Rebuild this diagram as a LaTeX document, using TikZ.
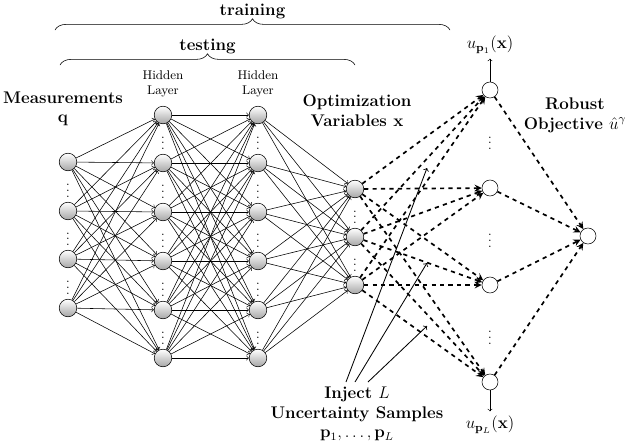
\documentclass[tikz,border=0pt]{standalone}
\usepackage{amsmath,amssymb}
\usetikzlibrary{arrows,positioning,calc,decorations.pathreplacing}
\begin{document}
\begin{tikzpicture}[x=0.025cm,y=-0.025cm,
  neuron/.style={circle,draw,inner sep=0,minimum size=0.44cm,top color=white,bottom color=gray!70},
  obj/.style={circle,draw,fill=white,inner sep=0,minimum size=0.4cm},
  conn/.style={->,>=to,thin},
  dconn/.style={->,>=stealth,very thick,dashed},
  dots/.style={inner sep=0,font=\small},
  lbl/.style={font=\large\bfseries,align=center,inner sep=0}]
\useasboundingbox (0,0) rectangle (640,448);
% layers
\foreach \i/\y in {1/162,2/211,3/259,4/308} \node[neuron] (in\i) at (68,\y) {};
\foreach \i/\y in {1/115,2/163,3/212,4/261,5/310,6/358} {
  \node[neuron] (ha\i) at (163,\y) {};
  \node[neuron] (hb\i) at (258,\y) {};
}
\foreach \i/\y in {1/189,2/237,3/285} \node[neuron] (out\i) at (355,\y) {};
\foreach \i/\y in {1/90,2/188,3/285,4/382} \node[obj] (obj\i) at (490,\y) {};
\node[obj] (rob) at (588,236) {};
% dots
\foreach \a/\b in {in1/in2,in2/in3,in3/in4,ha1/ha2,ha2/ha3,ha3/ha4,ha4/ha5,ha5/ha6,hb1/hb2,hb2/hb3,hb3/hb4,hb4/hb5,hb5/hb6,out1/out2,out2/out3,obj1/obj2,obj2/obj3,obj3/obj4}
  \node[dots] at ($(\a)!0.5!(\b)$) {$\vdots$};
% connections
\foreach \i in {1,...,4} \foreach \j in {1,...,6} \draw[conn] (in\i) -- (ha\j);
\foreach \i in {1,...,6} \foreach \j in {1,...,6} \draw[conn] (ha\i) -- (hb\j);
\foreach \i in {1,...,6} \foreach \j in {1,...,3} \draw[conn] (hb\i) -- (out\j);
\foreach \i in {1,...,3} \foreach \j in {1,...,4} \draw[dconn] (out\i) -- (obj\j);
\foreach \j in {1,...,4} \draw[dconn] (obj\j) -- (rob);
% outputs
\node[font=\large] (up1) at (490,45) {$u_{\mathbf{p}_1}(\mathbf{x})$};
\node[font=\large] (upL) at (490,425) {$u_{\mathbf{p}_L}(\mathbf{x})$};
\draw[->] (obj1) -- (up1);
\draw[->] (obj4) -- (upL);
% labels
\node[lbl] (meas) at (63,109) {Measurements\\$\mathbf{q}$};
\node[font=\small,align=center] (hla) at (163,84) {Hidden\\Layer};
\node[font=\small,align=center] (hlb) at (258,84) {Hidden\\Layer};
\node[lbl] (optv) at (357,111) {Optimization\\Variables $\mathbf{x}$};
\node[lbl] (robo) at (575,115) {Robust\\Objective $\hat{u}^{\gamma}$};
\node[lbl] (inj) at (357,414) {Inject $L$\\Uncertainty Samples\\$\mathbf{p}_1,\ldots,\mathbf{p}_L$};
\coordinate (s1) at (427,168);
\coordinate (s2) at (427,263);
\coordinate (s3) at (427,326);
\draw[->,semithick] (346,382) -- (s1);
\draw[->,semithick] (355,382) -- (s2);
\draw[->,semithick] (368,382) -- (s3);
% braces
\draw[decorate,decoration={brace,amplitude=8pt}] (55,30) -- (450,30) node[midway,above=8pt,inner sep=0,font=\large\bfseries] {training};
\draw[decorate,decoration={brace,amplitude=8pt}] (60,65) -- (355,65) node[midway,above=8pt,inner sep=0,font=\large\bfseries] {testing};
\end{tikzpicture}
\end{document}
